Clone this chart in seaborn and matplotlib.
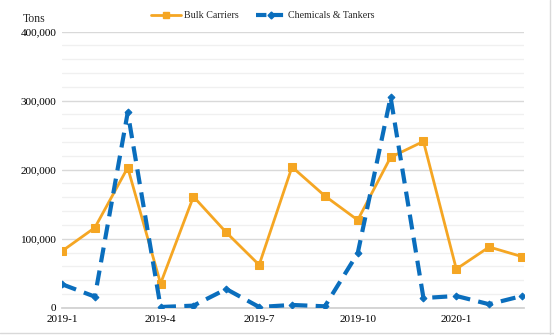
import matplotlib
matplotlib.use("Agg")
import matplotlib.pyplot as plt
import seaborn as sns
import pandas as pd
import numpy as np
from matplotlib.ticker import FuncFormatter, MultipleLocator
from matplotlib.lines import Line2D

months = ["2019-1", "2019-2", "2019-3", "2019-4", "2019-5", "2019-6", "2019-7", "2019-8",
          "2019-9", "2019-10", "2019-11", "2019-12", "2020-1", "2020-2", "2020-3"]
bulk = [82000, 116000, 203000, 35000, 161000, 109000, 62000, 204000,
        162000, 127000, 218000, 241000, 56000, 88000, 74000]
chem = [34000, 16000, 283000, 1000, 3000, 27000, 1000, 4000,
        2000, 79000, 305000, 14000, 17000, 5000, 17000]
tick_labels = ["2019-1", "2019-4", "2019-7", "2019-10", "2020-1"]

sns.set_theme(style="white")
plt.rcParams['font.family'] = ['Liberation Serif', 'DejaVu Serif']

df = pd.DataFrame({"idx": np.arange(len(months)), "month": months,
                   "Bulk Carriers": bulk, "Chemicals & Tankers": chem})

fig = plt.figure(figsize=(5.54, 3.35), dpi=100)
ax = fig.add_axes([62/554, 1 - 307.7/335, (524 - 62)/554, (307.7 - 31.7)/335])

orange = "#F5A623"
blue = "#0A6EBD"
sns.lineplot(data=df, x="idx", y="Bulk Carriers", ax=ax, color=orange, lw=2,
             marker="s", markersize=6, markeredgecolor=orange, zorder=3)
sns.lineplot(data=df, x="idx", y="Chemicals & Tankers", ax=ax, color=blue, lw=3,
             marker="D", markersize=3.5, markeredgecolor=blue, zorder=4)
ax.lines[-1].set_dashes([3.6, 2.0])

ax.set_ylim(0, 400000)
ax.set_xlim(0, len(months) - 1 + 0.06)
ax.yaxis.set_major_locator(MultipleLocator(100000))
ax.yaxis.set_minor_locator(MultipleLocator(20000))
ax.yaxis.set_major_formatter(FuncFormatter(lambda v, p: f"{int(v):,}"))
ax.grid(which="major", axis="y", color="#d9d9d9", lw=1)
ax.grid(which="minor", axis="y", color="#f0f0f0", lw=1)
ax.set_axisbelow(True)
ax.set_xticks([months.index(t) for t in tick_labels])
ax.set_xticklabels(tick_labels)
ax.tick_params(axis="both", labelsize=8, colors="black", length=0, pad=4)
ax.tick_params(axis="x", pad=5)
for s in ["top", "right", "left"]:
    ax.spines[s].set_visible(False)
ax.spines["bottom"].set_color("#d0d0d0")
ax.set_xlabel("")
ax.set_ylabel("")
fig.text(34/554, 1 - 19/335, "Tons", fontsize=8.5, ha="center", va="center")

handles = [Line2D([], [], color=orange, lw=2, marker="s", markersize=5),
           Line2D([], [], color=blue, lw=3, marker="D", markersize=3.5, dashes=[2.5, 1.5])]
fig.legend(handles, ["Bulk Carriers", "Chemicals & Tankers"], loc="center",
           bbox_to_anchor=(263/554, 1 - 15.5/335), ncol=2, frameon=False,
           fontsize=7.2, handlelength=3.0, columnspacing=1.7, handletextpad=0.25)

fig.add_artist(Line2D([549.5/554, 549.5/554], [0, 1], transform=fig.transFigure, color="#d9d9d9", lw=1))
fig.add_artist(Line2D([0, 1], [1 - 332.5/335, 1 - 332.5/335], transform=fig.transFigure, color="#d9d9d9", lw=1))

fig.savefig("out.png", dpi=100)
